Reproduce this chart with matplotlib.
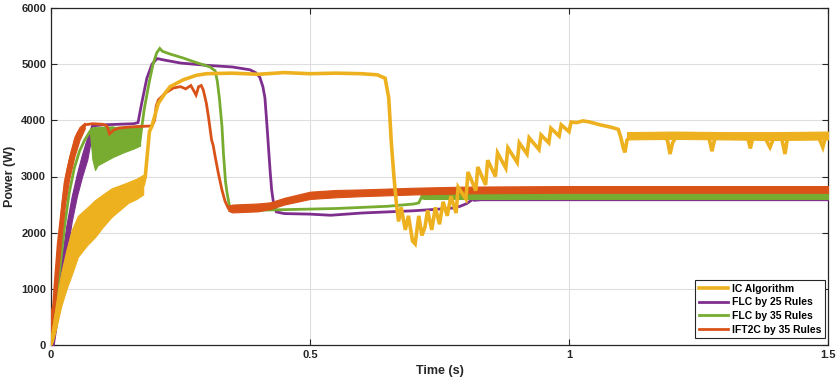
import numpy as np
import matplotlib
matplotlib.use("Agg")
import matplotlib.pyplot as plt

plt.rcParams['font.family'] = ['Liberation Sans', 'DejaVu Sans']

labels = ["IC Algorithm", "FLC by 25 Rules", "FLC by 35 Rules", "IFT2C by 35 Rules"]
colors = ["#EDB120", "#7E2F8E", "#77AC30", "#D95319"]

x_ticks = [0, 0.5, 1, 1.5]
x_tick_labels = ["0", "0.5", "1", "1.5"]
y_ticks = [0, 1000, 2000, 3000, 4000, 5000, 6000]

# ---------------- IC Algorithm ----------------
ic_band_t = [0, 0.003, 0.006, 0.01, 0.015, 0.02, 0.03, 0.04, 0.052, 0.07, 0.085, 0.1, 0.117, 0.135, 0.149, 0.165, 0.178]
ic_band_lo = [0, 50, 150, 300, 500, 700, 1000, 1250, 1570, 1780, 1920, 2100, 2280, 2420, 2530, 2600, 2680]
ic_band_hi = [0, 300, 500, 750, 1050, 1300, 1700, 2050, 2300, 2450, 2580, 2680, 2790, 2850, 2900, 2960, 3030]
ic_rip_t = [1.112, 1.2, 1.3, 1.4, 1.5]
ic_rip_lo = [3660, 3670, 3660, 3650, 3660]
ic_rip_hi = [3790, 3800, 3790, 3790, 3800]
ic_t = [0, 0.01, 0.03, 0.052, 0.085, 0.117, 0.149, 0.178, 0.182, 0.186, 0.19, 0.195, 0.207, 0.22, 0.23,
        0.255, 0.28, 0.30, 0.35, 0.40, 0.45, 0.50, 0.55, 0.60, 0.63, 0.645, 0.652, 0.657, 0.662, 0.667, 0.671,
        0.676, 0.684, 0.69, 0.698, 0.703, 0.71, 0.716, 0.722, 0.727, 0.735, 0.742, 0.75, 0.757, 0.765, 0.772,
        0.782, 0.786, 0.801, 0.805, 0.820, 0.824, 0.839, 0.843, 0.858, 0.862, 0.878, 0.882, 0.900, 0.904,
        0.919, 0.923, 0.942, 0.946, 0.961, 0.965, 0.981, 0.985, 1.000, 1.004,
        1.015, 1.027, 1.04, 1.06, 1.08, 1.095, 1.1, 1.105, 1.108, 1.112, 1.12, 1.15, 1.18, 1.19, 1.195, 1.2,
        1.21, 1.24, 1.27, 1.276, 1.282, 1.31, 1.345, 1.35, 1.355, 1.38, 1.388, 1.395, 1.41, 1.417, 1.422,
        1.45, 1.48, 1.49, 1.495, 1.5]
ic_p = [0, 520, 1350, 1930, 2250, 2530, 2710, 2850, 3000, 3400, 3800, 3900, 4300, 4480, 4600,
        4720, 4800, 4830, 4840, 4820, 4850, 4830, 4840, 4830, 4810, 4750, 4400, 3600, 3000, 2500, 2200,
        2450, 2050, 2300, 1850, 1800, 2300, 1950, 2100, 2400, 2050, 2450, 2150, 2550, 2300, 2650,
        2350, 2810, 2600, 3080, 2750, 3170, 2850, 3290, 3000, 3420, 3150, 3510, 3250, 3600,
        3400, 3690, 3480, 3740, 3600, 3860, 3720, 3920, 3800, 3970,
        3960, 3990, 3970, 3920, 3880, 3840, 3700, 3500, 3430, 3650, 3720, 3740, 3720, 3650, 3400, 3600,
        3760, 3760, 3700, 3450, 3700, 3720, 3690, 3500, 3700, 3660, 3520, 3680, 3700, 3400, 3700,
        3760, 3740, 3520, 3700, 3720]

# ---------------- FLC by 25 Rules ----------------
f25_band_t = [0, 0.005, 0.01, 0.02, 0.03, 0.04, 0.05, 0.06, 0.07, 0.078]
f25_band_lo = [0, 0, 300, 900, 1600, 2200, 2650, 3000, 3300, 3700]
f25_band_hi = [0, 500, 900, 1500, 2150, 2650, 3050, 3400, 3700, 3900]
f25_t = [0, 0.005, 0.01, 0.02, 0.03, 0.04, 0.05, 0.06, 0.07, 0.08, 0.1, 0.13, 0.16, 0.168, 0.175, 0.185,
         0.195, 0.205, 0.215, 0.25, 0.3, 0.35, 0.384, 0.395, 0.403, 0.409, 0.413, 0.417, 0.42, 0.423, 0.426,
         0.43, 0.435, 0.45, 0.5, 0.54, 0.6, 0.65, 0.7, 0.75, 0.777, 0.79, 0.803, 0.815, 0.83, 1.0, 1.2, 1.5]
f25_p = [0, 250, 600, 1200, 1870, 2430, 2850, 3200, 3500, 3900, 3920, 3930, 3940, 3960, 4300, 4750,
         5000, 5100, 5080, 5020, 4980, 4950, 4900, 4850, 4770, 4600, 4400, 3900, 3500, 3100, 2760,
         2500, 2370, 2340, 2330, 2310, 2350, 2370, 2390, 2420, 2440, 2470, 2520, 2600, 2630, 2630, 2630, 2630]
f25_rip_t = [0.815, 0.83, 1.0, 1.2, 1.5]
f25_rip_lo = [2570, 2580, 2580, 2580, 2580]
f25_rip_hi = [2630, 2680, 2680, 2680, 2680]

# ---------------- FLC by 35 Rules ----------------
f35_band_t = [0.075, 0.08, 0.085, 0.09, 0.1, 0.12, 0.14, 0.16, 0.172]
f35_band_lo = [3800, 3300, 3115, 3200, 3250, 3350, 3430, 3500, 3550]
f35_band_hi = [3850, 3870, 3880, 3860, 3870, 3880, 3890, 3900, 3920]
f35_t = [0, 0.004, 0.008, 0.015, 0.02, 0.027, 0.035, 0.045, 0.055, 0.065, 0.075, 0.08, 0.12, 0.172,
         0.18, 0.19, 0.197, 0.204, 0.21, 0.215, 0.23, 0.255, 0.28, 0.307, 0.317, 0.321, 0.325, 0.33, 0.333,
         0.337, 0.34, 0.345, 0.35, 0.4, 0.45, 0.5, 0.55, 0.6, 0.65, 0.7, 0.71, 0.716, 0.72, 1.0, 1.5]
f35_p = [0, 300, 600, 1200, 1600, 2170, 2700, 3150, 3450, 3650, 3800, 3850, 3870, 3650,
         4200, 4700, 5000, 5200, 5280, 5230, 5180, 5110, 5030, 4950, 4880, 4700, 4400, 3900, 3400,
         2900, 2700, 2450, 2400, 2400, 2410, 2420, 2430, 2450, 2470, 2510, 2530, 2650, 2650, 2650, 2650]
f35_rip_t = [0.716, 0.72, 1.0, 1.5]
f35_rip_lo = [2610, 2600, 2600, 2600]
f35_rip_hi = [2680, 2700, 2700, 2700]

# ---------------- IFT2C by 35 Rules ----------------
ift_band_t = [0, 0.005, 0.01, 0.015, 0.02, 0.027, 0.035, 0.045, 0.055, 0.065]
ift_band_lo = [0, 200, 900, 1400, 1900, 2500, 2950, 3350, 3650, 3850]
ift_band_hi = [0, 900, 1500, 2000, 2500, 3000, 3350, 3700, 3880, 3960]
ift_t = [0, 0.002, 0.005, 0.008, 0.014, 0.02, 0.027, 0.033, 0.04, 0.046, 0.052, 0.06, 0.066, 0.08, 0.1,
         0.108, 0.113, 0.12, 0.13, 0.15, 0.17, 0.195, 0.2, 0.203, 0.207, 0.22, 0.236, 0.25, 0.26, 0.27,
         0.276, 0.28, 0.285, 0.29, 0.294, 0.3, 0.304, 0.31, 0.313, 0.317, 0.323, 0.33, 0.336, 0.342]
ift_p = [0, 600, 700, 1100, 1815, 2300, 2880, 3150, 3410, 3600, 3770, 3870, 3920, 3940, 3930,
         3900, 3760, 3820, 3860, 3880, 3890, 3900, 4000, 4250, 4360, 4480, 4575, 4600, 4560, 4620,
         4520, 4450, 4600, 4620, 4540, 4300, 4060, 3650, 3560, 3350, 3060, 2760, 2560, 2440]
ift_rip_t = [0.342, 0.35, 0.4, 0.423, 0.45, 0.5, 0.55, 0.6, 0.7, 0.8, 1.0, 1.2, 1.5]
ift_rip_lo = [2390, 2360, 2380, 2420, 2500, 2600, 2630, 2650, 2680, 2700, 2710, 2710, 2710]
ift_rip_hi = [2480, 2500, 2520, 2540, 2620, 2730, 2760, 2770, 2800, 2820, 2830, 2830, 2830]

fig = plt.figure(figsize=(8.39, 3.86), dpi=100)
ax = fig.add_axes([51/839, 41/386, 777/839, 337/386])

series = [
    (ic_t, ic_p, [(ic_band_t, ic_band_lo, ic_band_hi), (ic_rip_t, ic_rip_lo, ic_rip_hi)], 2.6, 6),
    (f25_t, f25_p, [(f25_band_t, f25_band_lo, f25_band_hi), (f25_rip_t, f25_rip_lo, f25_rip_hi)], 2.0, 3),
    (f35_t, f35_p, [(f35_band_t, f35_band_lo, f35_band_hi), (f35_rip_t, f35_rip_lo, f35_rip_hi)], 2.0, 4),
    (ift_t, ift_p, [(ift_band_t, ift_band_lo, ift_band_hi), (ift_rip_t, ift_rip_lo, ift_rip_hi)], 2.0, 5),
]
handles = []
for i, (t, p, bands, lw, z) in enumerate(series):
    for bt, blo, bhi in bands:
        ax.fill_between(bt, blo, bhi, color=colors[i], linewidth=0.8, edgecolor=colors[i], zorder=z)
    h, = ax.plot(t, p, color=colors[i], lw=lw, label=labels[i], zorder=z, solid_joinstyle='miter')
    handles.append(h)

ax.set_xlim(0, 1.5)
ax.set_ylim(0, 6000)
ax.set_xticks(x_ticks)
ax.set_xticklabels(x_tick_labels)
ax.set_yticks(y_ticks)
ax.grid(True, color='#dedede', lw=0.8)
ax.set_axisbelow(True)
for s in ax.spines.values():
    s.set_color('#262626')
    s.set_linewidth(0.9)
ax.tick_params(direction='in', length=4, width=0.8, top=True, right=True, colors='#262626',
               labelsize=8)
for lab in ax.get_xticklabels() + ax.get_yticklabels():
    lab.set_fontweight('bold')
    lab.set_color('#262626')
ax.set_xlabel("Time (s)", fontsize=9, fontweight='bold', labelpad=4, color='#262626')
ax.set_ylabel("Power (W)", fontsize=9, fontweight='bold', labelpad=4, color='#262626')

leg = ax.legend(handles=handles, loc='lower right', bbox_to_anchor=(0.996, 0.02),
                prop={'weight': 'bold', 'size': 7.5}, frameon=True, fancybox=False,
                edgecolor='#262626', framealpha=1, handlelength=2.8, handletextpad=0.4,
                labelspacing=0.35, borderpad=0.35, borderaxespad=0)
leg.get_frame().set_linewidth(0.8)
leg.set_zorder(10)

fig.savefig("out.png", dpi=100)
